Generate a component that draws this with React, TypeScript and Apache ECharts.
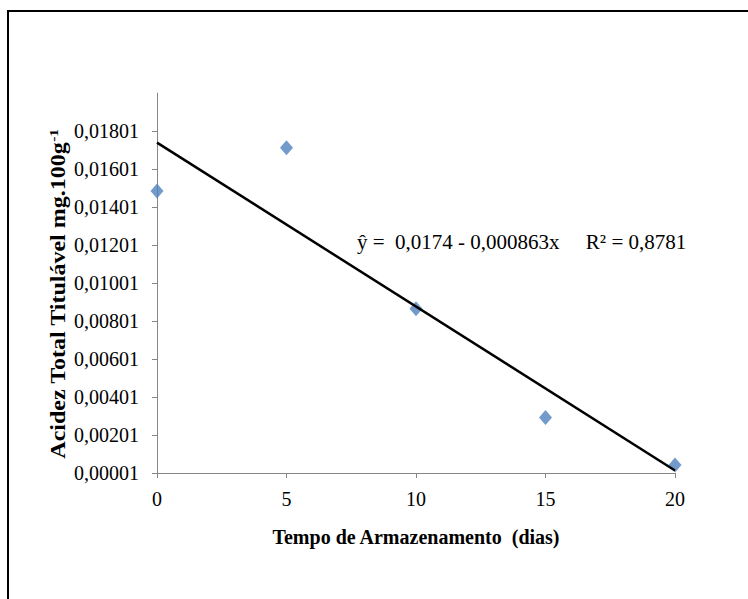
import React, { useEffect, useRef } from "react";
import * as echarts from "echarts";

const days = [0, 5, 10, 15, 20];
const acidity = [0.01485, 0.01713, 0.00865, 0.00293, 0.00043];
const trendX = [0, 20];
const intercept = 0.0174;
const slope = -0.000863;
const trendY = trendX.map((x) => intercept + slope * x);
const equationText = "ŷ =  0,0174 - 0,000863x     R² = 0,8781";
const xTitle = "Tempo de Armazenamento  (dias)";
const yTitle = "Acidez Total Titulável mg.100g";

const FONT = "Liberation Serif";

export default function App() {
  const ref = useRef<HTMLDivElement>(null);
  useEffect(() => {
    if (!ref.current) return;
    const chart = echarts.init(ref.current, undefined, { renderer: "svg" });
    chart.setOption({
      animation: false,
      backgroundColor: "#ffffff",
      textStyle: { fontFamily: FONT },
      grid: { left: 157, right: 73, top: 93, bottom: 126, containLabel: false },
      xAxis: {
        type: "value",
        min: 0,
        max: 20,
        interval: 5,
        name: xTitle,
        nameLocation: "middle",
        nameGap: 54,
        nameTextStyle: { fontFamily: FONT, fontSize: 20, fontWeight: "bold", color: "#000" },
        axisLine: { show: true, lineStyle: { color: "#868686", width: 1 } },
        axisTick: { show: true, inside: false, length: 5, lineStyle: { color: "#868686" } },
        axisLabel: { fontFamily: FONT, fontSize: 20, color: "#000", margin: 16 },
        splitLine: { show: false },
      },
      yAxis: {
        type: "value",
        min: 0.00001,
        max: 0.02001,
        interval: 0.002,
        axisLine: { show: true, lineStyle: { color: "#868686", width: 1 } },
        axisTick: { show: true, inside: false, length: 5, lineStyle: { color: "#868686" } },
        axisLabel: {
          fontFamily: FONT,
          fontSize: 20,
          color: "#000",
          margin: 18,
          showMaxLabel: false,
          formatter: (v: number) => v.toFixed(5).replace(".", ","),
        },
        splitLine: { show: false },
      },
      series: [
        {
          type: "scatter",
          data: days.map((d, i) => [d, acidity[i]]),
          symbol: "diamond",
          symbolSize: [13, 15],
          itemStyle: { color: "#4F81BD" },
          z: 2,
        },
        {
          type: "line",
          data: trendX.map((x, i) => [x, trendY[i]]),
          showSymbol: false,
          symbol: "none",
          lineStyle: { color: "#000", width: 2.5 },
          z: 3,
        },
      ],
      graphic: [
        {
          type: "polyline",
          shape: { points: [[8, 599], [8, 11], [748, 11]] },
          style: { stroke: "#000", lineWidth: 2, fill: "none" },
          silent: true,
        },
        {
          type: "text",
          x: 58,
          y: 294,
          rotation: Math.PI / 2,
          scaleX: 1.2,
          style: {
            text: "{a|" + yTitle + "}{b|-1}",
            align: "center",
            verticalAlign: "middle",
            rich: {
              a: { fontFamily: FONT, fontSize: 20, fontWeight: "bold", fill: "#000", lineHeight: 22 },
              b: { fontFamily: FONT, fontSize: 13, fontWeight: "bold", fill: "#000", verticalAlign: "top", lineHeight: 22 },
            },
          },
        },
        {
          type: "text",
          x: 357,
          y: 242,
          style: {
            text: equationText,
            fontFamily: FONT,
            fontSize: 21,
            fill: "#000",
            align: "left",
            verticalAlign: "middle",
          },
        },
      ],
    });
    return () => chart.dispose();
  }, []);
  return <div ref={ref} style={{ width: 748, height: 599, position: "absolute", left: 0, top: 0 }} />;
}
